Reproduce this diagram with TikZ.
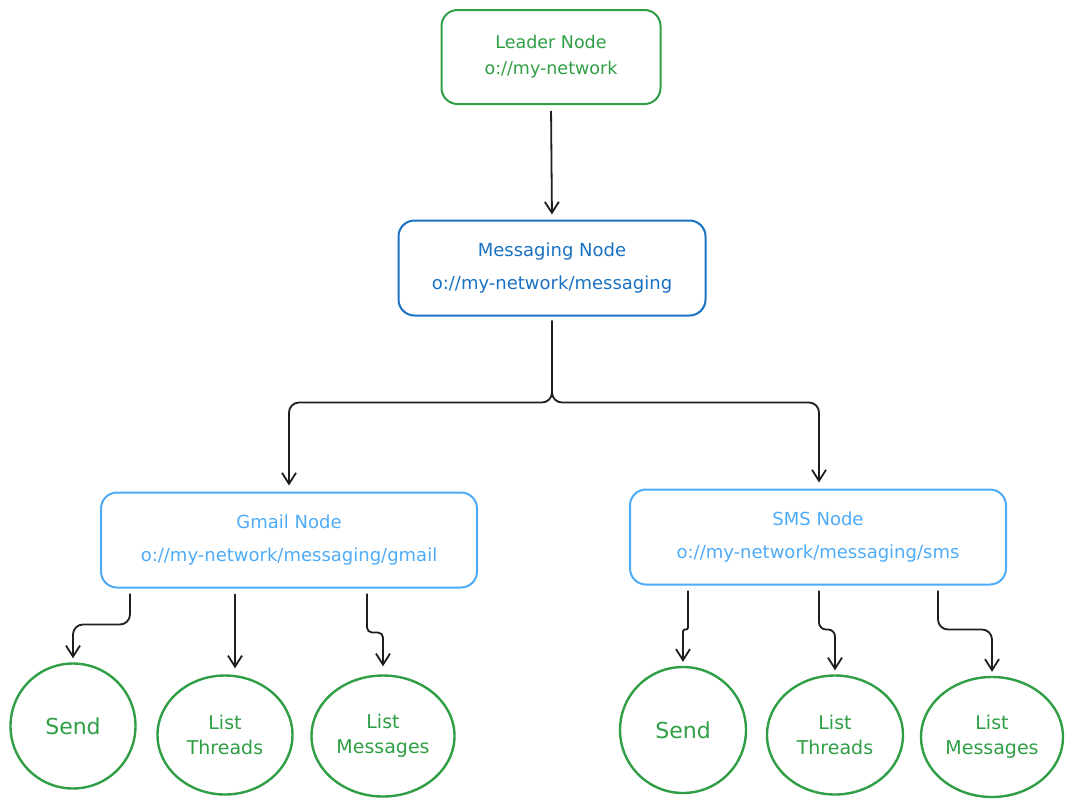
\documentclass[tikz,border=0pt]{standalone}
\usepackage{fontspec}
\setmainfont{DejaVu Sans}
\usetikzlibrary{arrows.meta,shapes.geometric}
\definecolor{exgreen}{HTML}{2F9E44}
\definecolor{exblue}{HTML}{1971C2}
\definecolor{exlblue}{HTML}{4DABF7}
\definecolor{exink}{HTML}{1E1E1E}
\tikzset{
  box/.style={draw, line width=2pt, rounded corners=16pt, align=center, inner sep=0pt},
  leaderbox/.style={box, draw=exgreen, text=exgreen, minimum width=219pt, minimum height=94pt, font=\fontsize{17.5}{26}\selectfont},
  msgbox/.style={box, draw=exblue, text=exblue, minimum width=307pt, minimum height=95pt, font=\fontsize{18}{33}\selectfont},
  subbox/.style={box, draw=exlblue, text=exlblue, minimum width=376pt, minimum height=95pt, font=\fontsize{18}{33}\selectfont},
  leaf/.style={ellipse, draw=exgreen, text=exgreen, line width=2.4pt, align=center, inner sep=0pt, font=\fontsize{19}{25}\selectfont},
  arr/.style={draw=exink, line width=1.8pt, -{Straight Barb[length=11pt,width=14pt,line width=1.8pt]}, rounded corners=10pt},
}
\begin{document}
\begin{tikzpicture}[x=1pt,y=-1pt]
\useasboundingbox (0,0) rectangle (1073,811);
\node[leaderbox] (lead) at (551,57) {Leader Node\\o://my-network};
\node[msgbox] (msg) at (552,268) {Messaging Node\\o://my-network/messaging};
\node[subbox] (gmail) at (289,540) {Gmail Node\\o://my-network/messaging/gmail};
\node[subbox] (sms) at (818,537) {SMS Node\\o://my-network/messaging/sms};

\node[leaf, minimum width=125pt, minimum height=125pt] (gsend) at (73,726) {\fontsize{22}{25}\selectfont Send};
\node[leaf, minimum width=135pt, minimum height=119pt] (gthr) at (225,735) {List\\Threads};
\node[leaf, minimum width=143pt, minimum height=121pt] (gmsgs) at (383,736) {List\\Messages};
\node[leaf, minimum width=126pt, minimum height=126pt] (ssend) at (683,730) {\fontsize{22}{25}\selectfont Send};
\node[leaf, minimum width=136pt, minimum height=119pt] (sthr) at (835,735) {List\\Threads};
\node[leaf, minimum width=142pt, minimum height=120pt] (smsgs) at (992,737) {List\\Messages};

\draw[arr, shorten <=6pt, shorten >=5pt] (lead.south) -- (msg.north);
\draw[arr, shorten <=4pt, shorten >=6pt] (msg.south) -- ++(0,86) -| (gmail.north);
\draw[arr, shorten <=4pt, shorten >=6pt] (msg.south) -- ++(0,86) -| ([xshift=1pt]sms.north);

\draw[arr, shorten <=5pt, shorten >=4pt] ([xshift=-159pt]gmail.south) -- ++(0,36) -| (gsend.north);
\draw[arr, shorten <=5pt, shorten >=6pt] ([xshift=-54pt]gmail.south) -- ([xshift=-54pt]gmail.south |- gthr.north);
\draw[arr, rounded corners=5pt, shorten <=5pt, shorten >=8pt] ([xshift=78pt]gmail.south) -- ++(0,44) -| (gmsgs.north);

\draw[arr, rounded corners=2pt, shorten <=5pt, shorten >=4pt] ([xshift=-130pt]sms.south) -- ++(0,44) -| (ssend.north);
\draw[arr, rounded corners=7pt, shorten <=5pt, shorten >=4pt] ([xshift=1pt]sms.south) -- ++(0,44) -| (sthr.north);
\draw[arr, shorten <=5pt, shorten >=4pt] ([xshift=120pt]sms.south) -- ++(0,44) -| (smsgs.north);
\end{tikzpicture}
\end{document}
